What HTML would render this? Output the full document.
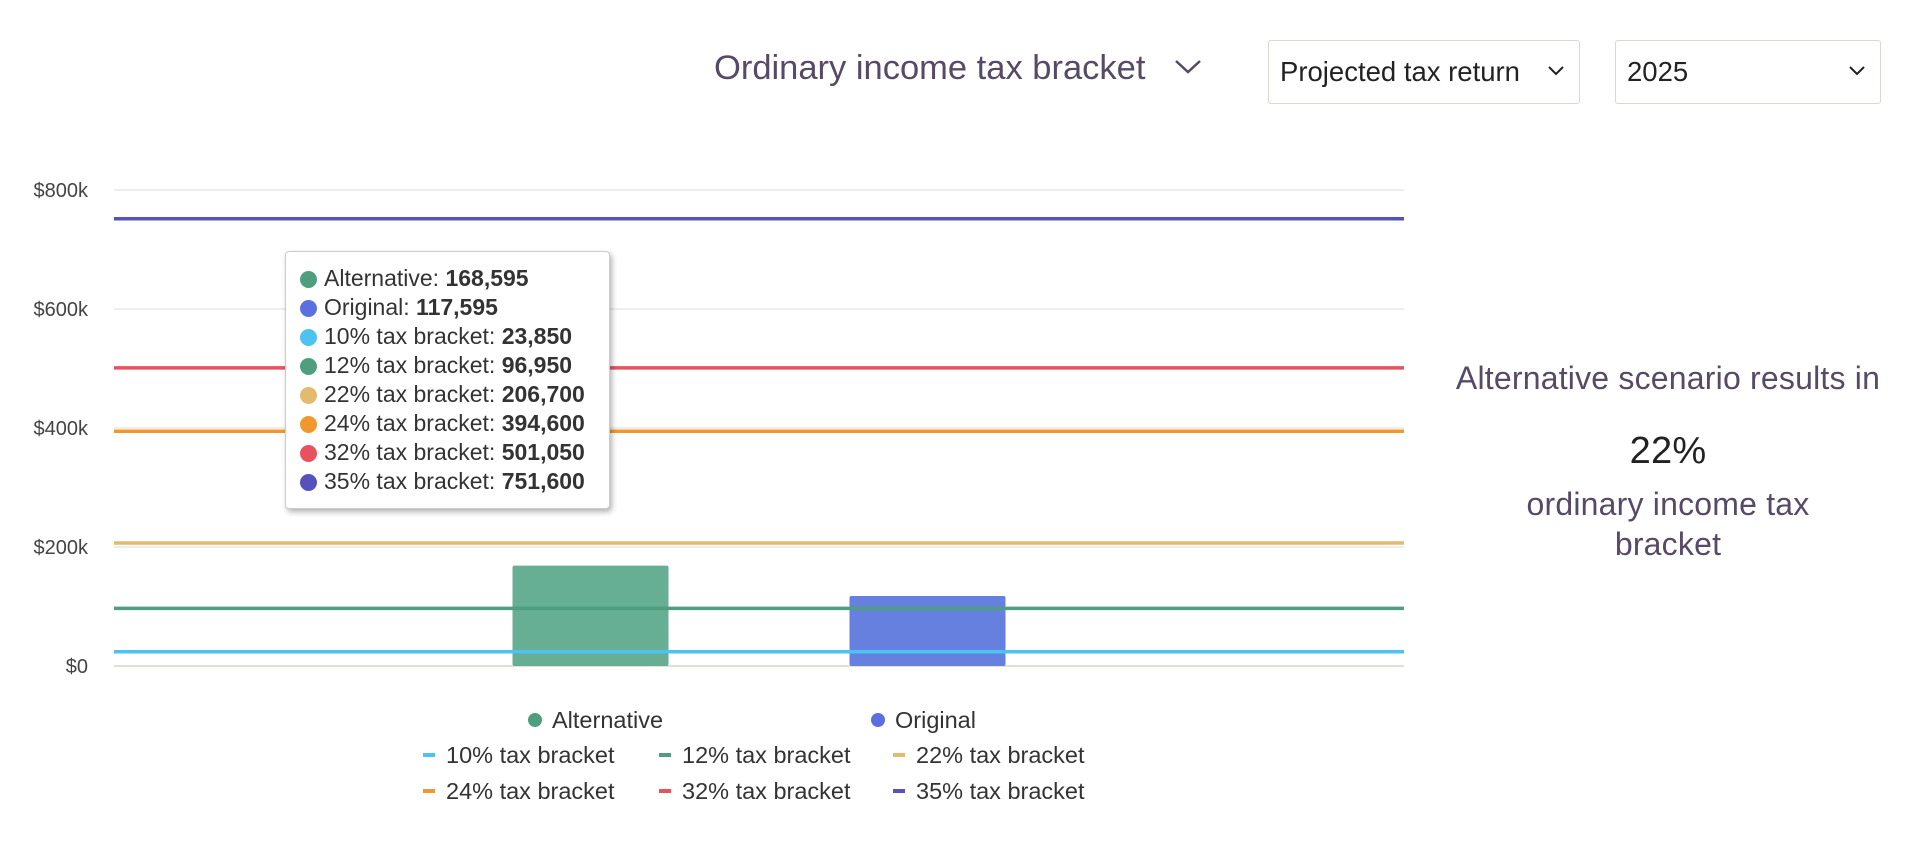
<!DOCTYPE html>
<html><head><meta charset="utf-8"><style>
html,body{margin:0;padding:0;background:#fff;width:1920px;height:848px;overflow:hidden;font-family:"Liberation Sans",sans-serif;}
.abs{position:absolute;}
.dd{position:absolute;top:40px;height:64px;border:1.5px solid #ddd8cf;border-radius:3px;box-sizing:border-box;font-size:27.5px;color:#222;line-height:61px;padding-left:11px;background:#fff;}
.dd svg{position:absolute;right:14px;top:24px;}
.tt{position:absolute;left:285px;top:251px;width:325px;height:258px;background:#fff;border:1px solid #ccc;border-radius:4px;box-shadow:2px 3px 6px rgba(0,0,0,0.3);box-sizing:border-box;padding:12px 0 0 14px;font-size:23px;color:#333;}
.tt div{height:29px;line-height:29px;white-space:nowrap;}
.tt i{display:inline-block;width:17px;height:17px;border-radius:50%;vertical-align:-2px;margin-right:7px;}
.rt{position:absolute;left:1430px;width:476px;text-align:center;color:#574a66;font-size:32px;letter-spacing:0.2px;}
</style></head><body>
<div class="abs" style="left:714px;top:49px;font-size:34.5px;color:#574a66;white-space:nowrap;">Ordinary income tax bracket
<svg width="30" height="20" style="margin-left:18px;vertical-align:2px" viewBox="0 0 30 20"><polyline points="3,4 15,15 27,4" fill="none" stroke="#574a66" stroke-width="2.5"/></svg></div>
<div class="dd" style="left:1268px;width:312px;">Projected tax return<svg width="18" height="12" viewBox="0 0 18 12"><polyline points="2,2 9,9 16,2" fill="none" stroke="#222" stroke-width="2"/></svg></div>
<div class="dd" style="left:1615px;width:266px;">2025<svg width="18" height="12" viewBox="0 0 18 12"><polyline points="2,2 9,9 16,2" fill="none" stroke="#222" stroke-width="2"/></svg></div>

<svg id="chart" class="abs" style="left:0;top:0" width="1920" height="848"></svg>

<div class="tt">
<div><i style="background:#4f9e80"></i>Alternative: <b>168,595</b></div>
<div><i style="background:#5a70e0"></i>Original: <b>117,595</b></div>
<div><i style="background:#4fc3f0"></i>10% tax bracket: <b>23,850</b></div>
<div><i style="background:#4f9e80"></i>12% tax bracket: <b>96,950</b></div>
<div><i style="background:#e3bb6e"></i>22% tax bracket: <b>206,700</b></div>
<div><i style="background:#f0982e"></i>24% tax bracket: <b>394,600</b></div>
<div><i style="background:#e8525f"></i>32% tax bracket: <b>501,050</b></div>
<div><i style="background:#5552bb"></i>35% tax bracket: <b>751,600</b></div>
</div>

<div class="rt" style="top:360px;">Alternative scenario results in</div>
<div class="rt" style="top:430px;font-size:38px;color:#222;">22%</div>
<div class="rt" style="top:484px;line-height:40px;">ordinary income tax<br>bracket</div>

<script>
const categories=["Alternative","Original"];
const barValues=[168595,117595];
const bracketNames=["10% tax bracket","12% tax bracket","22% tax bracket","24% tax bracket","32% tax bracket","35% tax bracket"];
const bracketValues=[23850,96950,206700,394600,501050,751600];
const yTicks=[0,200000,400000,600000,800000];
const yTickLabels=["$0","$200k","$400k","$600k","$800k"];
const barColors=["#66ae94","#6680e0"];
const lineColors=["#4fc3f0","#4f9e80","#e3bb6e","#f0982e","#e8525f","#5552bb"];
const NS="http://www.w3.org/2000/svg";
const svg=document.getElementById('chart');
const X0=114,X1=1404,Y0=666,Y1=190;
const y=v=>Y0-(v/800000)*(Y0-Y1);
const mid=(X0+X1)/2, step=337, bw=156;
const xc=i=>mid+(i-(categories.length-1)/2)*step;
function mk(t,a){const e=document.createElementNS(NS,t);for(const k in a)e.setAttribute(k,a[k]);svg.appendChild(e);return e;}
yTicks.forEach((t,i)=>{
  const g=mk('line',{x1:X0,x2:X1,y1:y(t),y2:y(t),stroke:i==0?'#d8d3cc':'#ebe8e4','stroke-width':1.5});
  
  
  const tx=mk('text',{x:88,y:y(t)+7,'text-anchor':'end','font-size':20,fill:'#444','font-family':'Liberation Sans, sans-serif'});
  tx.textContent=yTickLabels[i];
  
  
});
categories.forEach((c,i)=>{
  const r=mk('rect',{x:xc(i)-bw/2,y:y(barValues[i]),width:bw,height:Y0-y(barValues[i]),fill:barColors[i],rx:2});
  
  
});
bracketValues.forEach((v,i)=>{
  const l=mk('line',{x1:X0,x2:X1,y1:y(v),y2:y(v),stroke:lineColors[i],'stroke-width':3.5});
  
  
});
const lx=[535,878];
categories.forEach((c,i)=>{
  const d=mk('circle',{cx:lx[i],cy:720,r:7,fill:i==0?'#4f9e80':'#5a70e0'});
  
  
  const t=mk('text',{x:lx[i]+17,y:728,'font-size':23.5,fill:'#333','font-family':'Liberation Sans, sans-serif'});
  t.textContent=c;
  
  
});
const bx=[423,659,893];
bracketNames.forEach((n,i)=>{
  const cx=bx[i%3], cy=755+Math.floor(i/3)*36;
  const m=mk('rect',{x:cx,y:cy-2,width:12,height:4,fill:lineColors[i]});
  
  
  const t=mk('text',{x:cx+23,y:cy+8,'font-size':23.5,fill:'#333','font-family':'Liberation Sans, sans-serif'});
  t.textContent=n;
  
  
});
</script>
</body></html>
